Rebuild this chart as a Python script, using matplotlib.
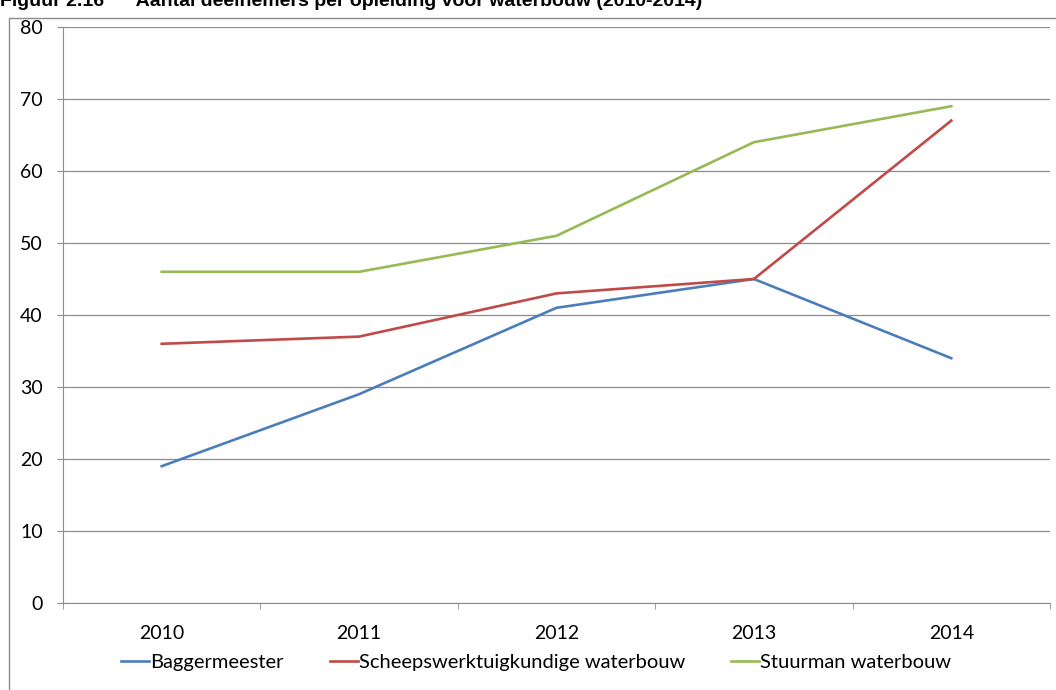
import matplotlib.pyplot as plt
from matplotlib.patches import Rectangle

# data
years = ['2010', '2011', '2012', '2013', '2014']
baggermeester = [19, 29, 41, 45, 34]
scheepswerktuigkundige = [36, 37, 43, 45, 67]
stuurman = [46, 46, 51, 64, 69]

plt.rcParams['font.family'] = ['Lato', 'DejaVu Sans']

fig = plt.figure(figsize=(10.56, 6.9), dpi=100)
ax = fig.add_axes([63/1056, 1 - 603/690, (1050 - 63)/1056, (603 - 27)/690])

# chart frame (runs off the edges)
fig.patches.append(Rectangle((9/1056, -0.1), 1.2, 1 - 18/690 + 0.1,
                             transform=fig.transFigure, fill=False,
                             edgecolor='#8c8c8c', linewidth=1))

# title, cut at the top as in the source
fig.text(0, 1 - 6/690, 'Figuur 2.16      Aantal deelnemers per opleiding voor waterbouw (2010-2014)',
         family='Liberation Sans', weight='bold', fontsize=14, va='baseline', ha='left')

x = list(range(len(years)))
ax.plot(x, baggermeester, color='#4A7EBB', lw=1.9, label='Baggermeester')
ax.plot(x, scheepswerktuigkundige, color='#BE4B48', lw=1.9, label='Scheepswerktuigkundige waterbouw')
ax.plot(x, stuurman, color='#98B954', lw=1.9, label='Stuurman waterbouw')

ax.set_xlim(-0.5, 4.5)
ax.set_ylim(0, 80)
ax.set_yticks(range(0, 81, 10))
ax.yaxis.grid(True, color='#8c8c8c', lw=0.9)
ax.set_axisbelow(True)

ax.set_xticks(x)
ax.set_xticklabels(years, fontsize=14)
ax.set_xticks([i - 0.5 for i in range(len(years) + 1)], minor=True)
ax.tick_params(axis='x', which='major', length=0, pad=16)
ax.tick_params(axis='x', which='minor', length=4.5, color='#8c8c8c', direction='out')
ax.tick_params(axis='y', length=4.5, color='#8c8c8c', labelsize=14, pad=10)

for s in ['top', 'right']:
    ax.spines[s].set_visible(False)
for s in ['left', 'bottom']:
    ax.spines[s].set_color('#8c8c8c')

ax.legend(loc='center', bbox_to_anchor=(536/1056, 1 - 662/690), bbox_transform=fig.transFigure,
          ncol=3, frameon=False, fontsize=14.5, handlelength=1.4, handletextpad=0.05,
          columnspacing=2.3, borderpad=0, borderaxespad=0)

fig.savefig('out.png', dpi=100)
